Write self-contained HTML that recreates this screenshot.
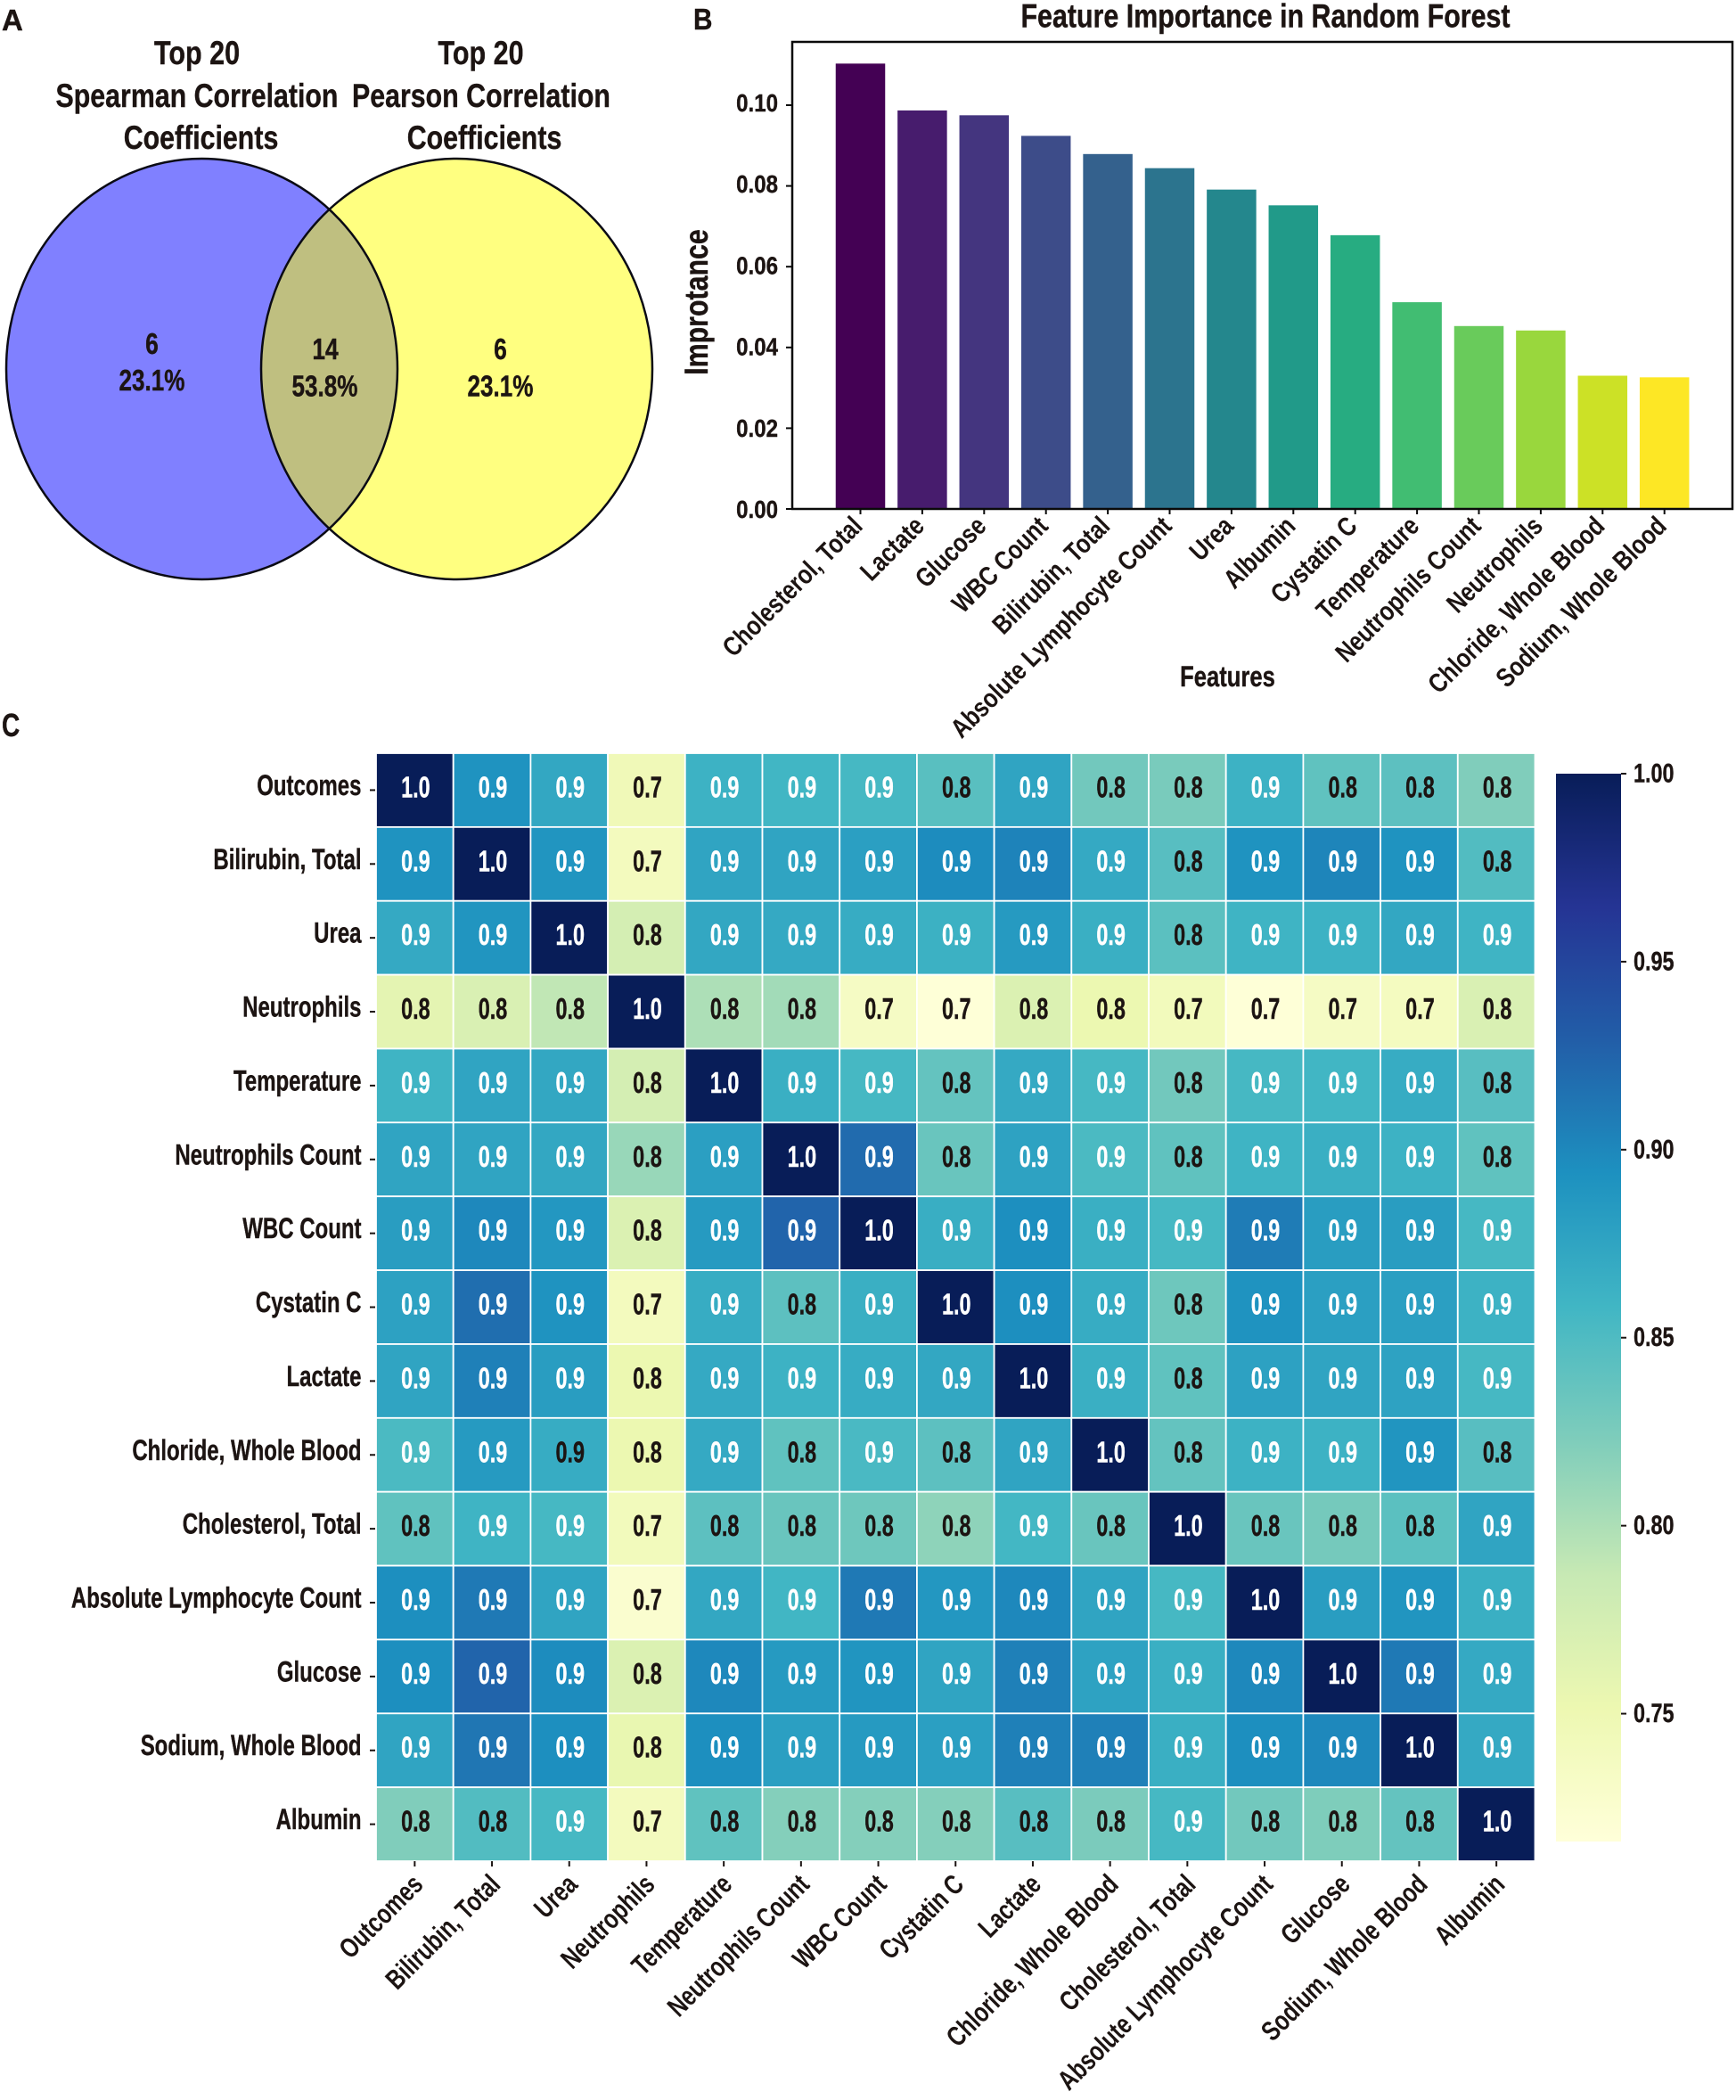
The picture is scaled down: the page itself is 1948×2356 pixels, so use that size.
<!DOCTYPE html>
<html lang="en">
<head>
<meta charset="utf-8">
<title>Feature correlation and importance figure</title>
<style>
html,body{margin:0;padding:0;background:#fff;}
svg{display:block;}
text{font-family:"Liberation Sans",Arial,sans-serif;font-weight:bold;fill:#1c1412;stroke:#1c1412;stroke-width:.4;}
</style>
</head>
<body>
<svg id="figure" xmlns="http://www.w3.org/2000/svg" width="1948" height="2356" viewBox="0 0 1948 2356">
  <rect x="0" y="0" width="1948" height="2356" fill="#ffffff"/>
  <defs>
    <clipPath id="left-clip"><ellipse cx="226.5" cy="414" rx="219.5" ry="236"/></clipPath>
    <linearGradient id="cbar-gradient" x1="0" y1="0" x2="0" y2="1"></linearGradient>
  </defs>

  <g>
    <text font-size="33" transform="translate(2,34)">A</text>
    <text font-size="37" text-anchor="middle" transform="translate(221,72) scale(.825,1)">Top 20</text>
    <text font-size="37" text-anchor="middle" transform="translate(221,120) scale(.82,1)">Spearman Correlation</text>
    <text font-size="37" text-anchor="middle" transform="translate(225.5,167) scale(.82,1)">Coefficients</text>
    <text font-size="37" text-anchor="middle" transform="translate(539.5,72) scale(.825,1)">Top 20</text>
    <text font-size="37" text-anchor="middle" transform="translate(540,120) scale(.82,1)">Pearson Correlation</text>
    <text font-size="37" text-anchor="middle" transform="translate(543.5,167) scale(.82,1)">Coefficients</text>
    <ellipse cx="226.5" cy="414" rx="219.5" ry="236" fill="#8080ff"/>
    <ellipse cx="512.5" cy="414" rx="219.5" ry="236" fill="#ffff80"/>
    <ellipse cx="512.5" cy="414" rx="219.5" ry="236" fill="#bfbf80" clip-path="url(#left-clip)"/>
    <ellipse cx="226.5" cy="414" rx="219.5" ry="236" fill="none" stroke="#0a0a14" stroke-width="2.5"/>
    <ellipse cx="512.5" cy="414" rx="219.5" ry="236" fill="none" stroke="#0a0a14" stroke-width="2.5"/>
    <text font-size="33" text-anchor="middle" transform="translate(170.5,397) scale(.8,1)">6</text>
    <text font-size="33" text-anchor="middle" transform="translate(170.5,438) scale(.79,1)">23.1%</text>
    <text font-size="33" text-anchor="middle" transform="translate(365,403) scale(.8,1)">14</text>
    <text font-size="33" text-anchor="middle" transform="translate(364.5,444.5) scale(.79,1)">53.8%</text>
    <text font-size="33" text-anchor="middle" transform="translate(561.5,403) scale(.8,1)">6</text>
    <text font-size="33" text-anchor="middle" transform="translate(561.5,444.5) scale(.79,1)">23.1%</text>
  </g>

  <g id="panel-b">
    <text font-size="33" transform="translate(778,33) scale(.9,1)">B</text>
    <text font-size="37" text-anchor="middle" transform="translate(1420,30.5) scale(.822,1)">Feature Importance in Random Forest</text>
    <text font-size="37" text-anchor="middle" transform="translate(794,339) rotate(-90) scale(.82,1)">Improtance</text>
    <text font-size="32" text-anchor="middle" transform="translate(1377.5,770) scale(.8,1)">Features</text>
  </g>

  <g id="panel-c">
    <text font-size="36" transform="translate(2,826) scale(.78,1)">C</text>
  </g>

<script>
// ---------- Panel B data ----------
var barFeatures = ["Cholesterol, Total","Lactate","Glucose","WBC Count","Bilirubin, Total","Absolute Lymphocyte Count","Urea","Albumin","Cystatin C","Temperature","Neutrophils Count","Neutrophils","Chloride, Whole Blood","Sodium, Whole Blood"];
var barImportance = [0.1103,0.0987,0.0975,0.0924,0.0879,0.0844,0.0791,0.0752,0.0678,0.0512,0.0453,0.0442,0.0330,0.0326];
var barTickValues = [0,0.02,0.04,0.06,0.08,0.10];
var barTickLabels = ["0.00","0.02","0.04","0.06","0.08","0.10"];

// ---------- Panel C data ----------
var heatLabels = ["Outcomes","Bilirubin, Total","Urea","Neutrophils","Temperature","Neutrophils Count","WBC Count","Cystatin C","Lactate","Chloride, Whole Blood","Cholesterol, Total","Absolute Lymphocyte Count","Glucose","Sodium, Whole Blood","Albumin"];
var heatRow0  = [1,.892,.872,.745,.862,.858,.855,.844,.875,.83,.826,.862,.84,.842,.822];
var heatRow1  = [.892,1,.89,.74,.875,.875,.88,.897,.903,.87,.845,.892,.902,.892,.848];
var heatRow2  = [.87,.89,1,.775,.872,.87,.868,.863,.885,.865,.843,.86,.862,.872,.86];
var heatRow3  = [.76,.77,.79,1,.80,.805,.735,.718,.768,.752,.742,.718,.735,.738,.77];
var heatRow4  = [.86,.875,.872,.775,1,.865,.855,.838,.87,.855,.83,.855,.858,.868,.845];
var heatRow5  = [.875,.875,.872,.81,.88,1,.92,.835,.877,.852,.84,.86,.865,.862,.84];
var heatRow6  = [.882,.9,.888,.768,.885,.925,1,.866,.895,.865,.855,.908,.882,.882,.855];
var heatRow7  = [.878,.918,.892,.74,.868,.842,.865,1,.895,.868,.832,.892,.88,.88,.862];
var heatRow8  = [.875,.905,.882,.752,.87,.862,.868,.872,1,.865,.84,.878,.875,.877,.855];
var heatRow9  = [.852,.885,.868,.752,.87,.84,.853,.842,.875,1,.838,.862,.862,.89,.845];
var heatRow10 = [.84,.86,.855,.742,.842,.835,.832,.815,.857,.835,1,.835,.828,.843,.875];
var heatRow11 = [.895,.91,.875,.725,.872,.858,.91,.888,.9,.875,.855,1,.882,.89,.865];
var heatRow12 = [.895,.925,.897,.768,.9,.885,.89,.875,.905,.877,.865,.9,1,.91,.87];
var heatRow13 = [.875,.912,.895,.755,.895,.88,.885,.88,.905,.905,.865,.895,.9,1,.87];
var heatRow14 = [.822,.848,.855,.74,.84,.82,.82,.82,.845,.825,.855,.83,.823,.838,1];
var heatValues = [heatRow0,heatRow1,heatRow2,heatRow3,heatRow4,heatRow5,heatRow6,heatRow7,heatRow8,heatRow9,heatRow10,heatRow11,heatRow12,heatRow13,heatRow14];
var cbarTickValues = [1.00,0.95,0.90,0.85,0.80,0.75];
var cbarTickLabels = ["1.00","0.95","0.90","0.85","0.80","0.75"];
var heatMin = 0.716;
var heatMax = 1.0;

// ---------- colormaps ----------
var viridisMap = ["#440154","#482475","#414487","#355f8d","#2a788e","#21918c","#22a884","#44bf70","#7ad151","#bddf26","#fde725"];
var ylgnbuMap = ["#ffffd9","#edf8b1","#c7e9b4","#7fcdbb","#41b6c4","#1d91c0","#225ea8","#253494","#081d58"];

function hexToRgb(h){return [parseInt(h.substr(1,2),16),parseInt(h.substr(3,2),16),parseInt(h.substr(5,2),16)];}
function sampleMap(map,t){
  t=Math.max(0,Math.min(1,t));
  var p=t*(map.length-1),i=Math.min(Math.floor(p),map.length-2),f=p-i;
  var a=hexToRgb(map[i]),b=hexToRgb(map[i+1]);
  return "rgb("+Math.round(a[0]+(b[0]-a[0])*f)+","+Math.round(a[1]+(b[1]-a[1])*f)+","+Math.round(a[2]+(b[2]-a[2])*f)+")";
}
var NS="http://www.w3.org/2000/svg";
function make(parent,tag,attrs,txt){
  var el=document.createElementNS(NS,tag);
  for(var k in attrs){el.setAttribute(k,attrs[k]);}
  if(txt!==undefined){el.textContent=txt;}
  parent.appendChild(el);
  return el;
}
var el;

// ---------- Panel B axis functions ----------
var panelB=document.getElementById("panel-b");
var barAxisLeft=889, barAxisRight=1944, barAxisTop=47, barAxisBottom=571;
var barFirstCenter=965.5, barStep=69.4, barWidth=55.5;
function barX(i){return barFirstCenter+i*barStep;}
function barY(v){return barAxisBottom-v*4530;}

barFeatures.forEach(function(name,i){
  var top=barY(barImportance[i]);
  el=make(panelB,"rect",{x:barX(i)-barWidth/2,y:top,width:barWidth,height:barAxisBottom-top,fill:sampleMap(viridisMap,i/(barFeatures.length-1))});
  
  
});
el=make(panelB,"rect",{x:barAxisLeft,y:barAxisTop,width:barAxisRight-barAxisLeft,height:barAxisBottom-barAxisTop,fill:"none",stroke:"#0a0a0a","stroke-width":2.5});


barTickValues.forEach(function(v,i){
  var y=barY(v);
  el=make(panelB,"line",{x1:barAxisLeft-7,x2:barAxisLeft,y1:y,y2:y,stroke:"#0a0a0a","stroke-width":2});
  
  
  el=make(panelB,"text",{"font-size":28,"text-anchor":"end",transform:"translate(873,"+(y+10-v*30)+") scale(.86,1)"},barTickLabels[i]);
  
  
});
barFeatures.forEach(function(name,i){
  var x=barX(i);
  el=make(panelB,"line",{x1:x,x2:x,y1:barAxisBottom,y2:barAxisBottom+6,stroke:"#0a0a0a","stroke-width":2});
  
  
  el=make(panelB,"text",{"font-size":30,"text-anchor":"end",style:"stroke-width:0",transform:"translate("+(x+4)+",592) rotate(-45) scale(.825,1)"},name);
  
  
});

// ---------- Panel C axis functions ----------
var panelC=document.getElementById("panel-c");
var heatLeft=422, heatTop=845, colStep=86.7, rowStep=82.87;
function colX(i){return heatLeft+i*colStep;}
function rowY(i){return heatTop+i*rowStep;}
function heatColor(v){return sampleMap(ylgnbuMap,(v-heatMin)/(heatMax-heatMin));}

heatValues.forEach(function(row,r){
  row.forEach(function(v,c){
    el=make(panelC,"rect",{x:colX(c),y:rowY(r),width:colStep,height:rowStep,fill:heatColor(v),stroke:"#ffffff","stroke-width":1.8});
    
    
  });
});
heatValues.forEach(function(row,r){
  row.forEach(function(v,c){
    var label=v.toFixed(1);
    var dark=(v<0.85)||(r===9&&c===2);
    var ink=dark?"#1c1412":"#ffffff";
    el=make(panelC,"text",{"font-size":33,"text-anchor":"middle",style:"fill:"+ink+";stroke:"+ink,transform:"translate("+(colX(c)+colStep/2+1)+","+(rowY(r)+rowStep/2+8)+") scale(.71,1)"},label);
    
    
  });
});
heatLabels.forEach(function(name,i){
  var cy=rowY(i)+rowStep/2;
  el=make(panelC,"line",{x1:heatLeft-7,x2:heatLeft-1,y1:cy,y2:cy,stroke:"#1c1412","stroke-width":2});
  
  
  el=make(panelC,"text",{"font-size":32,"text-anchor":"end",transform:"translate(405.5,"+(cy+5.5)+") scale(.75,1)"},name);
  
  
  var cx=colX(i)+colStep/2;
  el=make(panelC,"line",{x1:cx,x2:cx,y1:rowY(heatLabels.length),y2:rowY(heatLabels.length)+6,stroke:"#1c1412","stroke-width":2});
  
  
  el=make(panelC,"text",{"font-size":31,"text-anchor":"end",style:"stroke-width:0",transform:"translate("+(cx+11)+",2116) rotate(-45) scale(.775,1)"},name);
  
  
});

// ---------- Colorbar ----------
var cbarLeft=1746, cbarRight=1819, cbarTop=868, cbarBottom=2066;
function cbarY(v){return cbarTop+(heatMax-v)/(heatMax-heatMin)*(cbarBottom-cbarTop);}
var grad=document.getElementById("cbar-gradient");
ylgnbuMap.forEach(function(col,i){
  var stop=document.createElementNS(NS,"stop");
  stop.setAttribute("offset",(1-i/(ylgnbuMap.length-1)));
  stop.setAttribute("stop-color",col);
  grad.insertBefore(stop,grad.firstChild);
});
el=make(panelC,"rect",{x:cbarLeft,y:cbarTop,width:cbarRight-cbarLeft,height:cbarBottom-cbarTop,fill:"url(#cbar-gradient)"});


cbarTickValues.forEach(function(v,i){
  var y=cbarY(v);
  el=make(panelC,"line",{x1:cbarRight,x2:cbarRight+6,y1:y,y2:y,stroke:"#1c1412","stroke-width":2});
  
  
  el=make(panelC,"text",{"font-size":30,"text-anchor":"start",transform:"translate(1833,"+(y+9.5)+") scale(.78,1)"},cbarTickLabels[i]);
  
  
});
</script>
</svg>
</body>
</html>
